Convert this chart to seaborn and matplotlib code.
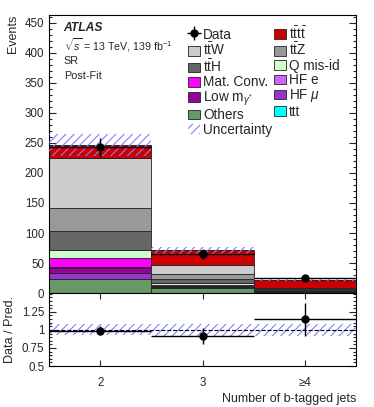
import numpy as np
import pandas as pd
import matplotlib
matplotlib.use("Agg")
import matplotlib.pyplot as plt
import seaborn as sns
from matplotlib.patches import Patch, Rectangle
from matplotlib.legend_handler import HandlerPatch
from matplotlib.ticker import MultipleLocator, FixedLocator, FixedFormatter

# ---------------- data ----------------
nb_bins = [2, 3, 4]
tick_labels = ["2", "3", "\u22654"]

# stack contributions (bottom -> top)
others = [24.0, 8.0, 1.5]
hf_mu = [10.0, 1.5, 0.3]
low_mgamma = [7.0, 1.5, 0.3]
hf_e = [3.0, 0.5, 0.2]
mat_conv = [15.0, 2.5, 0.4]
q_misid = [12.0, 2.0, 0.5]
tth = [33.0, 7.0, 1.3]
ttz = [38.0, 8.0, 1.5]
ttw = [83.0, 16.0, 2.5]
tttt = [21.0, 24.0, 13.0]
ttt = [0.3, 0.3, 0.3]

data_vals = [243.0, 65.5, 25.0]
unc_rel = [0.075, 0.08, 0.08]

stack_names = ["Others", "HF mu", "Low mgamma", "HF e", "Mat. Conv.", "Q mis-id",
               "ttH", "ttZ", "ttW", "tttt", "ttt"]
stack_values = [others, hf_mu, low_mgamma, hf_e, mat_conv, q_misid, tth, ttz, ttw, tttt, ttt]
stack_colors = ["#669966", "#9933cc", "#990099", "#cc66ff", "#ff00ff", "#ccffcc",
                "#666666", "#999999", "#cccccc", "#cc0000", "#00ffff"]
legend_labels = {
    "Others": "Others", "HF mu": r"HF $\mu$", "Low mgamma": r"Low m$_{\gamma^{*}}$",
    "HF e": "HF e", "Mat. Conv.": "Mat. Conv.", "Q mis-id": "Q mis-id",
    "ttH": r"t$\bar{\rm t}$H", "ttZ": r"t$\bar{\rm t}$Z", "ttW": r"t$\bar{\rm t}$W",
    "tttt": r"t$\bar{\rm t}$t$\bar{\rm t}$", "ttt": "ttt",
}

# ---------------- style ----------------
sns.set_theme(style="ticks")
plt.rcParams["font.family"] = ["Liberation Sans", "DejaVu Sans"]
plt.rcParams["mathtext.fontset"] = "custom"
plt.rcParams["mathtext.rm"] = "Liberation Sans"
plt.rcParams["mathtext.it"] = "Liberation Sans:italic"
plt.rcParams["mathtext.bf"] = "Liberation Sans:bold"
plt.rcParams["hatch.linewidth"] = 0.8
plt.rcParams["axes.linewidth"] = 0.8

fig = plt.figure(figsize=(3.74, 4.07), dpi=100)
ax = fig.add_axes([0.131, 0.280, 0.821, 0.683])
rax = fig.add_axes([0.131, 0.1007, 0.821, 0.1793])

# ---------------- stacked histogram ----------------
rows = []
for name, vals in zip(stack_names, stack_values):
    for b, v in zip(nb_bins, vals):
        rows.append({"nb": b, "events": v, "process": name})
df = pd.DataFrame(rows)
hue_order = stack_names[::-1]  # first level ends up on top
palette = dict(zip(stack_names, stack_colors))
sns.histplot(data=df, x="nb", weights="events", hue="process", hue_order=hue_order,
             palette=palette, multiple="stack", discrete=True, shrink=1,
             element="bars", alpha=1, edgecolor="#222222", linewidth=0.6,
             legend=False, ax=ax)

total = np.sum(np.array(stack_values), axis=0)
unc_abs = total * np.array(unc_rel)
ax.bar(nb_bins, 2 * unc_abs, bottom=total - unc_abs, width=1.0, facecolor="none",
       edgecolor="#8080ff", linewidth=0, hatch="////", zorder=3)

data_err = np.sqrt(data_vals)
eb = ax.errorbar(nb_bins, data_vals, yerr=data_err, xerr=0.5, fmt="o", color="black",
                 ms=5, lw=1, capsize=0, zorder=5)

ax.set_xlim(1.5, 4.5)
ax.set_ylim(0, 463)
ax.set_xlabel("")
ax.set_ylabel("Events", fontsize=9, loc="top", labelpad=4)
ax.yaxis.set_major_locator(MultipleLocator(50))
ax.yaxis.set_minor_locator(MultipleLocator(10))
ax.xaxis.set_major_locator(FixedLocator(nb_bins))
ax.tick_params(axis="y", which="major", direction="in", length=5, width=0.8,
               right=True, labelsize=8.3)
ax.tick_params(axis="y", which="minor", direction="in", length=2.5, width=0.8, right=True)
ax.tick_params(axis="x", which="major", direction="in", length=7, width=0.8,
               labelbottom=False, top=False)
for s in ax.spines.values():
    s.set_visible(True)
    s.set_color("black")

# ---------------- texts ----------------
ax.text(0.048, 0.952, "ATLAS", transform=ax.transAxes, fontsize=8.7, fontweight="bold",
        fontstyle="italic", va="center")
ax.text(0.048, 0.892, r"$\sqrt{s}$ = 13 TeV, 139 fb$^{-1}$", transform=ax.transAxes,
        fontsize=7.7, va="center")
ax.text(0.048, 0.835, "SR", transform=ax.transAxes, fontsize=7.8, va="center")
ax.text(0.048, 0.779, "Post-Fit", transform=ax.transAxes, fontsize=7.8, va="center")

# ---------------- legend ----------------
def small_rect(legend, orig_handle, xdescent, ydescent, width, height, fontsize):
    h = height * 0.72
    return Rectangle(xy=(-xdescent, -ydescent + (height - h) / 2), width=width, height=h)

def ph(name):
    return Patch(facecolor=palette[name], edgecolor="#222222", linewidth=0.6)

unc_handle = Patch(facecolor="none", edgecolor="#8080ff", linewidth=0, hatch="////")
col1 = [(eb, "Data"), (ph("ttW"), legend_labels["ttW"]), (ph("ttH"), legend_labels["ttH"]),
        (ph("Mat. Conv."), "Mat. Conv."), (ph("Low mgamma"), legend_labels["Low mgamma"]),
        (ph("Others"), "Others"), (unc_handle, "Uncertainty")]
col2 = [(ph("tttt"), legend_labels["tttt"]), (ph("ttZ"), legend_labels["ttZ"]),
        (ph("Q mis-id"), "Q mis-id"), (ph("HF e"), "HF e"),
        (ph("HF mu"), legend_labels["HF mu"]), (ph("ttt"), "ttt")]
items = col1 + col2
ax.legend([h for h, _ in items], [l for _, l in items], ncol=2, frameon=False,
          loc="upper left", bbox_to_anchor=(188 / 374, 1 - 25 / 407),
          bbox_transform=fig.transFigure, borderpad=0, borderaxespad=0,
          fontsize=9.8, handlelength=0.9, handleheight=1.16, handletextpad=0.2,
          labelspacing=0.0, columnspacing=0.15,
          handler_map={Patch: HandlerPatch(patch_func=small_rect)})

# ---------------- ratio panel ----------------
ratio = np.array(data_vals) / total
ratio_err = data_err / total
rax.bar(nb_bins, 2 * np.array(unc_rel), bottom=1 - np.array(unc_rel), width=1.0,
        facecolor="none", edgecolor="#8080ff", linewidth=0, hatch="////", zorder=2)
rax.axhline(1.0, color="black", ls="--", lw=0.8, zorder=3)
rax.errorbar(nb_bins, ratio, yerr=ratio_err, xerr=0.5, fmt="o", color="black",
             ms=5, lw=1, capsize=0, zorder=5)
rax.set_xlim(1.5, 4.5)
rax.set_ylim(0.5, 1.51)
rax.xaxis.set_major_locator(FixedLocator(nb_bins))
rax.xaxis.set_major_formatter(FixedFormatter(tick_labels))
rax.yaxis.set_major_locator(FixedLocator([0.5, 0.75, 1.0, 1.25]))
rax.yaxis.set_major_formatter(FixedFormatter(["0.5", "0.75", "1", "1.25"]))
rax.yaxis.set_minor_locator(MultipleLocator(0.05))
rax.tick_params(axis="y", which="major", direction="in", length=5, width=0.8,
                right=True, labelsize=8.3)
rax.tick_params(axis="y", which="minor", direction="in", length=2.5, width=0.8, right=True)
rax.tick_params(axis="x", which="major", direction="in", length=4, width=0.8,
                top=True, labelsize=8.3, pad=8)
rax.set_ylabel("Data / Pred.", fontsize=9, labelpad=4)
rax.set_xlabel("Number of b-tagged jets", fontsize=9, loc="right", labelpad=3)
for s in rax.spines.values():
    s.set_visible(True)
    s.set_color("black")

fig.savefig("out.png", dpi=100)
